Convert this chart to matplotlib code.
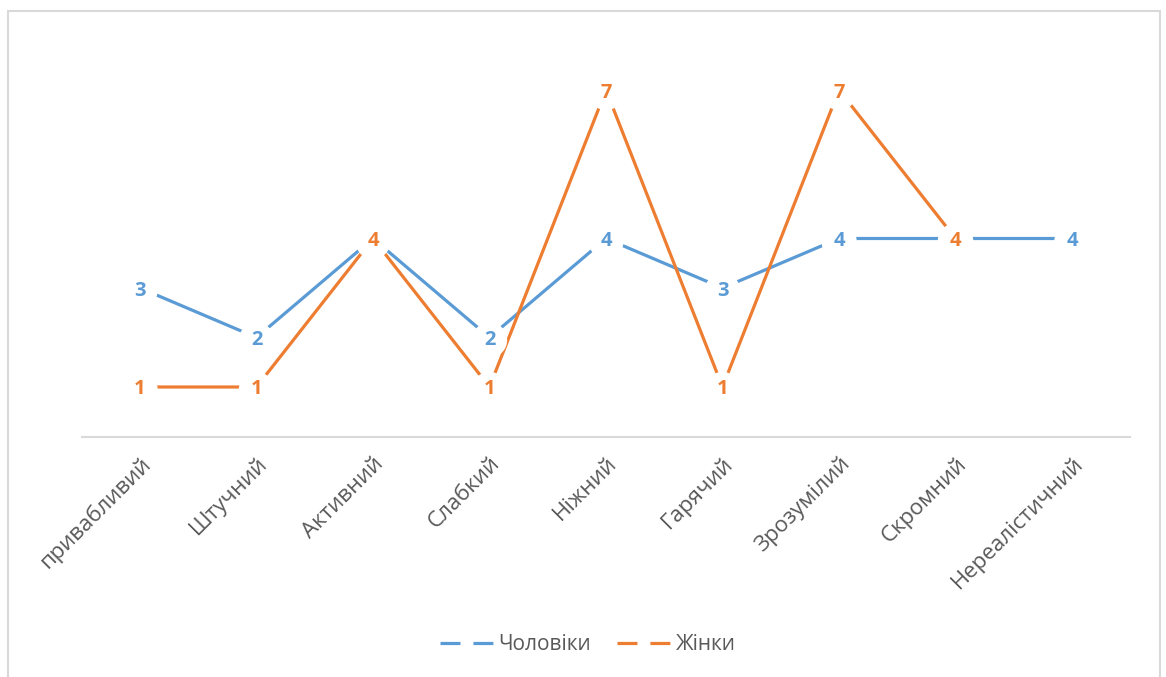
import matplotlib
matplotlib.use("Agg")
import matplotlib.pyplot as plt
import numpy as np
from matplotlib.lines import Line2D
from matplotlib.patches import Rectangle

categories = ["привабливий", "Штучний", "Активний", "Слабкий", "Ніжний",
              "Гарячий", "Зрозумілий", "Скромний", "Нереалістичний"]
men = [3, 2, 4, 2, 4, 3, 4, 4, 4]
women = [1, 1, 4, 1, 7, 1, 7, 4, np.nan]
series_names = ["Чоловіки", "Жінки"]

BLUE = "#5B9BD5"
ORANGE = "#ED7D31"
TXT = "#595959"

plt.rcParams['font.family'] = ['Open Sans', 'DejaVu Sans']

W, H = 1166, 677
fig = plt.figure(figsize=(W / 100, H / 100), dpi=100)
fig.patch.set_facecolor("white")

# outer chart border
fig.add_artist(Rectangle((7.5 / W, -0.05), (1160 - 7.5) / W, 1.05 - 11 / H,
                         transform=fig.transFigure, fill=False,
                         edgecolor="#D9D9D9", linewidth=1.5))

left = 81.75 / W
right = 1130.25 / W
bottom = (H - 436.5) / H
top = (H - 40.5) / H
ax = fig.add_axes([left, bottom, right - left, top - bottom])

x = np.arange(len(categories))
ax.plot(x, men, color=BLUE, lw=2.3, solid_capstyle="butt", zorder=2)
ax.plot(x, women, color=ORANGE, lw=2.3, solid_capstyle="butt", zorder=2)

label_kw = dict(fontsize=14.5, fontweight="bold", ha="center", va="center",
                textcoords="offset points", xytext=(0, -1.8),
                bbox=dict(boxstyle="circle,pad=0.38", fc="white", ec="none"))
for xi, v in zip(x, men):
    ax.annotate(f"{v:g}", (xi, v), color=BLUE, zorder=4, **label_kw)
for xi, v in zip(x, women):
    if np.isnan(v):
        continue
    ax.annotate(f"{v:g}", (xi, v), color=ORANGE, zorder=5, **label_kw)

ax.set_xlim(-0.5, len(categories) - 0.5)
ax.set_ylim(0, 8)
ax.set_yticks([])
ax.set_xticks(x)
ax.set_xticklabels(categories, rotation=45, ha="right", va="top",
                   rotation_mode="anchor", fontsize=16, color=TXT)
ax.tick_params(axis="x", length=0, pad=12)
for lbl in ax.get_xticklabels():
    lbl.set_x(lbl.get_position()[0])
for s in ["left", "right", "top"]:
    ax.spines[s].set_visible(False)
ax.spines["bottom"].set_color("#D9D9D9")
ax.spines["bottom"].set_linewidth(1.5)

handles = [Line2D([], [], color=BLUE, lw=2.3, linestyle=(0, (6.25, 4.06))),
           Line2D([], [], color=ORANGE, lw=2.3, linestyle=(0, (6.25, 4.06)))]
leg = fig.legend(handles, series_names, loc="center", bbox_to_anchor=(588 / W, (H - 645) / H),
                 ncol=2, frameon=False, fontsize=15, handlelength=2.55,
                 handletextpad=0.24, columnspacing=1.25)
for t in leg.get_texts():
    t.set_color(TXT)

fig.savefig("out.png", dpi=100, facecolor="white")
